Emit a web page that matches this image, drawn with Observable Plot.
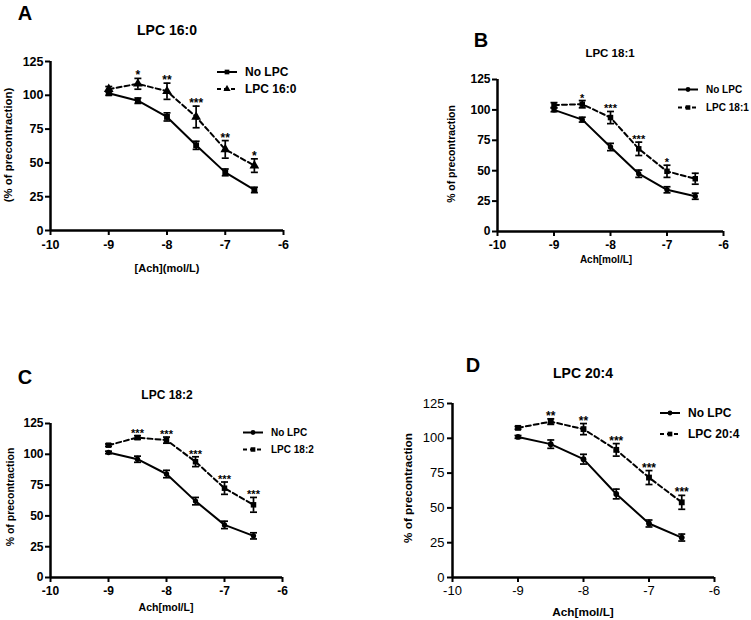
<!DOCTYPE html>
<html>
<head>
<meta charset="utf-8">
<script src="https://cdn.jsdelivr.net/npm/d3@7"></script>
<script src="https://cdn.jsdelivr.net/npm/@observablehq/plot@0.6"></script>
<style>
  html, body { margin: 0; padding: 0; background: #fff; }
  #root { position: relative; width: 751px; height: 620px; overflow: hidden; font-family: "Liberation Sans", Arial, Helvetica, sans-serif; color: #000; }
  .abs { position: absolute; white-space: nowrap; line-height: 1; }
  .c { transform: translate(-50%, -50%); }
  .rot { transform: translate(-50%, -50%) rotate(-90deg); }
  .plot { position: absolute; overflow: visible; }
  .plot svg { overflow: visible; }
  .leg { position: absolute; display: flex; align-items: center; white-space: nowrap; font-weight: bold; transform: translateY(-50%); }
  .leg svg { margin-right: 8px; }
</style>
</head>
<body>
<div id="root"></div>
<script>
// ---- data ----
const conc = [-9, -8.5, -8, -7.5, -7, -6.5];
const xTicks = [-10, -9, -8, -7, -6];
const yTicks = [0, 25, 50, 75, 100, 125];

// Panel A: LPC 16:0
const noLpcA = [101.5, 96, 84, 63, 43, 30];
const noLpcSemA = [1.5, 2, 3, 3, 2.5, 2];
const lpcA = [104.5, 108.5, 103, 84, 60, 48];
const lpcSemA = [2, 4, 6, 8, 6.5, 5];
const starsA = ["", "*", "**", "***", "**", "*"];

// Panel B: LPC 18:1
const noLpcB = [100, 92, 69.5, 47.5, 34.3, 29];
const noLpcSemB = [1.5, 2, 3, 3, 2.5, 2.5];
const lpcB = [104, 104.7, 93.7, 68, 49.5, 43.4];
const lpcSemB = [2, 3, 5, 5.5, 5, 4.5];
const starsB = ["", "*", "***", "***", "*", ""];

// Panel C: LPC 18:2
const noLpcC = [101.5, 96, 84, 62, 42.7, 33.8];
const noLpcSemC = [1, 2.5, 3, 3, 3, 2.5];
const lpcC = [107.4, 113.6, 111.5, 94, 72.5, 59];
const lpcSemC = [1, 1.5, 2.5, 4, 5, 6];
const starsC = ["", "***", "***", "***", "***", "***"];

// Panel D: LPC 20:4
const noLpcD = [101, 95.8, 85, 60, 38.8, 28.7];
const noLpcSemD = [1, 3, 3.5, 3.5, 2.5, 2.5];
const lpcD = [107.5, 112, 106.6, 91.7, 71.8, 54];
const lpcSemD = [1, 2, 4, 4.5, 5, 5];
const starsD = ["", "**", "**", "***", "***", "***"];

const panelLetters = ["A", "B", "C", "D"];
const panelTitles = ["LPC 16:0", "LPC 18:1", "LPC 18:2", "LPC 20:4"];
const legendNo = "No LPC";
const xLabels = ["[Ach](mol/L)", "Ach[mol/L]", "Ach[mol/L]", "Ach[mol/L]"];
const yLabels = ["(% of precontraction)", "% of precontraction", "% of precontraction", "% of precontraction"];

// ---- layout / style ----
const root = document.getElementById("root");
const FONT = '"Liberation Sans", Arial, sans-serif';
const capSym = { draw(ctx, size) { const r = 3.5; ctx.moveTo(-r, 0); ctx.lineTo(r, 0); } };

function addText(txt, x, y, size, weight, cls) {
  const d = document.createElement("div");
  d.className = "abs " + cls;
  d.style.left = x + "px"; d.style.top = y + "px";
  d.style.fontSize = size + "px"; d.style.fontWeight = weight;
  d.textContent = txt;
  root.appendChild(d);
}

function legendSwatch(symbol, dashed) {
  const ns = "http://www.w3.org/2000/svg";
  const s = document.createElementNS(ns, "svg");
  s.setAttribute("width", 20); s.setAttribute("height", 8);
  const l = document.createElementNS(ns, "line");
  l.setAttribute("x1", 0); l.setAttribute("x2", 20); l.setAttribute("y1", 4); l.setAttribute("y2", 4);
  l.setAttribute("stroke", "#000"); l.setAttribute("stroke-width", 2);
  if (dashed) l.setAttribute("stroke-dasharray", "4,3");
  s.appendChild(l);
  const p = document.createElementNS(ns, "path");
  p.setAttribute("d", d3.symbol(symbol, symbol === d3.symbolCircle ? 18 : 22)());
  p.setAttribute("transform", "translate(10,4)");
  p.setAttribute("fill", "#000");
  s.appendChild(p);
  return s;
}

function addLegend(symbol, dashed, label, x, y, size) {
  const d = document.createElement("div");
  d.className = "leg";
  d.style.left = x + "px"; d.style.top = y + "px"; d.style.fontSize = size + "px";
  d.appendChild(legendSwatch(symbol, dashed));
  const t = document.createElement("span"); t.textContent = label;
  d.appendChild(t);
  root.appendChild(d);
}

function panel(cfg) {
  const rows = (ys, sems) => conc.map((x, i) => ({ x, y: ys[i], lo: ys[i] - sems[i], hi: ys[i] + sems[i] }));
  const ctl = rows(cfg.no, cfg.noSem);
  const lpc = rows(cfg.lpc, cfg.lpcSem).map((d, i) => ({ ...d, star: cfg.stars[i] }));
  const mL = 40, mR = 10, mT = 10, mB = 25;
  const width = cfg.R - cfg.L + mL + mR;
  const height = cfg.B - cfg.T + mT + mB;
  const p = Plot.plot({
    width, height,
    marginLeft: mL, marginRight: mR, marginTop: mT, marginBottom: mB,
    x: { domain: [-10, -6] },
    y: { domain: [0, 125] },
    style: { fontFamily: FONT, overflow: "visible", background: "transparent", color: "#000" },
    marks: [
      Plot.axisX({ ticks: xTicks, tickFormat: () => "", tickSize: cfg.tickSize, label: null, strokeWidth: 2 }),
      Plot.axisY({ ticks: yTicks, tickFormat: () => "", tickSize: cfg.tickSize, label: null, strokeWidth: 2 }),
      Plot.text(xTicks, { x: d => d, text: d => String(d), frameAnchor: "bottom", lineAnchor: "top",
                          dy: cfg.tickSize + cfg.xPad, fontSize: cfg.tickFont, fontWeight: cfg.tickWeight, fill: "#000" }),
      Plot.text(yTicks, { y: d => d, text: d => String(d), frameAnchor: "left", textAnchor: "end",
                          dx: -(cfg.tickSize + cfg.yPad), fontSize: cfg.tickFont, fontWeight: cfg.tickWeight, fill: "#000" }),
      Plot.ruleY([0], { stroke: "#000", strokeWidth: 2.5 }),
      Plot.ruleX([-10], { stroke: "#000", strokeWidth: 2.5 }),
      // control (solid)
      Plot.line(ctl, { x: "x", y: "y", stroke: "#000", strokeWidth: 2 }),
      Plot.ruleX(ctl, { x: "x", y1: "lo", y2: "hi", stroke: "#000", strokeWidth: 1.7 }),
      Plot.dot(ctl, { x: "x", y: "hi", symbol: capSym, stroke: "#000", strokeWidth: 1.7 }),
      Plot.dot(ctl, { x: "x", y: "lo", symbol: capSym, stroke: "#000", strokeWidth: 1.7 }),
      Plot.dot(ctl, { x: "x", y: "y", symbol: cfg.symNo, r: cfg.rNo, fill: "#000", stroke: null }),
      // LPC (dashed)
      Plot.line(lpc, { x: "x", y: "y", stroke: "#000", strokeWidth: 2, strokeDasharray: "5,3" }),
      Plot.ruleX(lpc, { x: "x", y1: "lo", y2: "hi", stroke: "#000", strokeWidth: 1.7 }),
      Plot.dot(lpc, { x: "x", y: "hi", symbol: capSym, stroke: "#000", strokeWidth: 1.7 }),
      Plot.dot(lpc, { x: "x", y: "lo", symbol: capSym, stroke: "#000", strokeWidth: 1.7 }),
      Plot.dot(lpc, { x: "x", y: "y", symbol: cfg.symLpc, r: cfg.rLpc, fill: "#000", stroke: null }),
      Plot.text(lpc, { x: "x", y: "hi", text: "star", lineAnchor: "bottom", dy: 1, fontSize: cfg.starFont, fontWeight: "bold", fill: "#000" })
    ]
  });
  const wrap = document.createElement("div");
  wrap.className = "plot";
  wrap.style.left = (cfg.L - mL) + "px";
  wrap.style.top = (cfg.T - mT) + "px";
  wrap.appendChild(p);
  root.appendChild(wrap);

  addText(cfg.letter, cfg.letterPos[0], cfg.letterPos[1], 20, "bold", "c");
  addText(cfg.title, cfg.titlePos[0], cfg.titlePos[1], cfg.titleFont, "bold", "c");
  addText(cfg.xLabel, cfg.xLabelPos[0], cfg.xLabelPos[1], cfg.labelFont, "bold", "c");
  addText(cfg.yLabel, cfg.yLabelPos[0], cfg.yLabelPos[1], cfg.yLabelFont, "bold", "rot");
  addLegend(cfg.legSymNo, false, legendNo, cfg.legX, cfg.legY[0], cfg.legFont);
  addLegend(cfg.legSymLpc, true, cfg.title, cfg.legX, cfg.legY[1], cfg.legFont);
}

panel({
  L: 50, R: 283, T: 61, B: 230,
  no: noLpcA, noSem: noLpcSemA, lpc: lpcA, lpcSem: lpcSemA, stars: starsA,
  symNo: "square", rNo: 3.3, symLpc: "triangle", rLpc: 3.6,
  legSymNo: d3.symbolSquare, legSymLpc: d3.symbolTriangle,
  tickFont: 12.5, tickWeight: "bold", tickSize: 5, xPad: 5, yPad: 2, starFont: 12,
  letter: panelLetters[0], letterPos: [25, 13],
  title: panelTitles[0], titlePos: [167, 30], titleFont: 14,
  xLabel: xLabels[0], xLabelPos: [167, 268], labelFont: 11,
  yLabel: yLabels[0], yLabelPos: [9, 145], yLabelFont: 11.4,
  legX: 217, legY: [72, 89], legFont: 12
});

panel({
  L: 497, R: 723, T: 79, B: 231,
  no: noLpcB, noSem: noLpcSemB, lpc: lpcB, lpcSem: lpcSemB, stars: starsB,
  symNo: "circle", rNo: 2.7, symLpc: "square", rLpc: 3.1,
  legSymNo: d3.symbolCircle, legSymLpc: d3.symbolSquare,
  tickFont: 12, tickWeight: "bold", tickSize: 5, xPad: 4, yPad: 2, starFont: 11,
  letter: panelLetters[1], letterPos: [481, 40],
  title: panelTitles[1], titlePos: [610, 54], titleFont: 11.5,
  xLabel: xLabels[1], xLabelPos: [606, 260], labelFont: 10,
  yLabel: yLabels[1], yLabelPos: [452, 154], yLabelFont: 10.4,
  legX: 678, legY: [89, 107], legFont: 10
});

panel({
  L: 50, R: 282, T: 423, B: 577,
  no: noLpcC, noSem: noLpcSemC, lpc: lpcC, lpcSem: lpcSemC, stars: starsC,
  symNo: "circle", rNo: 2.7, symLpc: "square", rLpc: 3.1,
  legSymNo: d3.symbolCircle, legSymLpc: d3.symbolSquare,
  tickFont: 12, tickWeight: "bold", tickSize: 5, xPad: 4, yPad: 2, starFont: 11,
  letter: panelLetters[2], letterPos: [25, 377],
  title: panelTitles[2], titlePos: [167, 395], titleFont: 12,
  xLabel: xLabels[2], xLabelPos: [166, 607], labelFont: 10.5,
  yLabel: yLabels[2], yLabelPos: [10, 497], yLabelFont: 10.5,
  legX: 243, legY: [432, 449], legFont: 10
});

panel({
  L: 452, R: 714, T: 403, B: 577,
  no: noLpcD, noSem: noLpcSemD, lpc: lpcD, lpcSem: lpcSemD, stars: starsD,
  symNo: "circle", rNo: 2.9, symLpc: "square", rLpc: 3.3,
  legSymNo: d3.symbolCircle, legSymLpc: d3.symbolSquare,
  tickFont: 13, tickWeight: "normal", tickSize: 5, xPad: 3, yPad: 3, starFont: 12,
  letter: panelLetters[3], letterPos: [473, 365],
  title: panelTitles[3], titlePos: [583, 373], titleFont: 14,
  xLabel: xLabels[3], xLabelPos: [583, 613], labelFont: 11.8,
  yLabel: yLabels[3], yLabelPos: [408, 488], yLabelFont: 11.7,
  legX: 660, legY: [413, 434], legFont: 12
});
</script>
</body>
</html>
